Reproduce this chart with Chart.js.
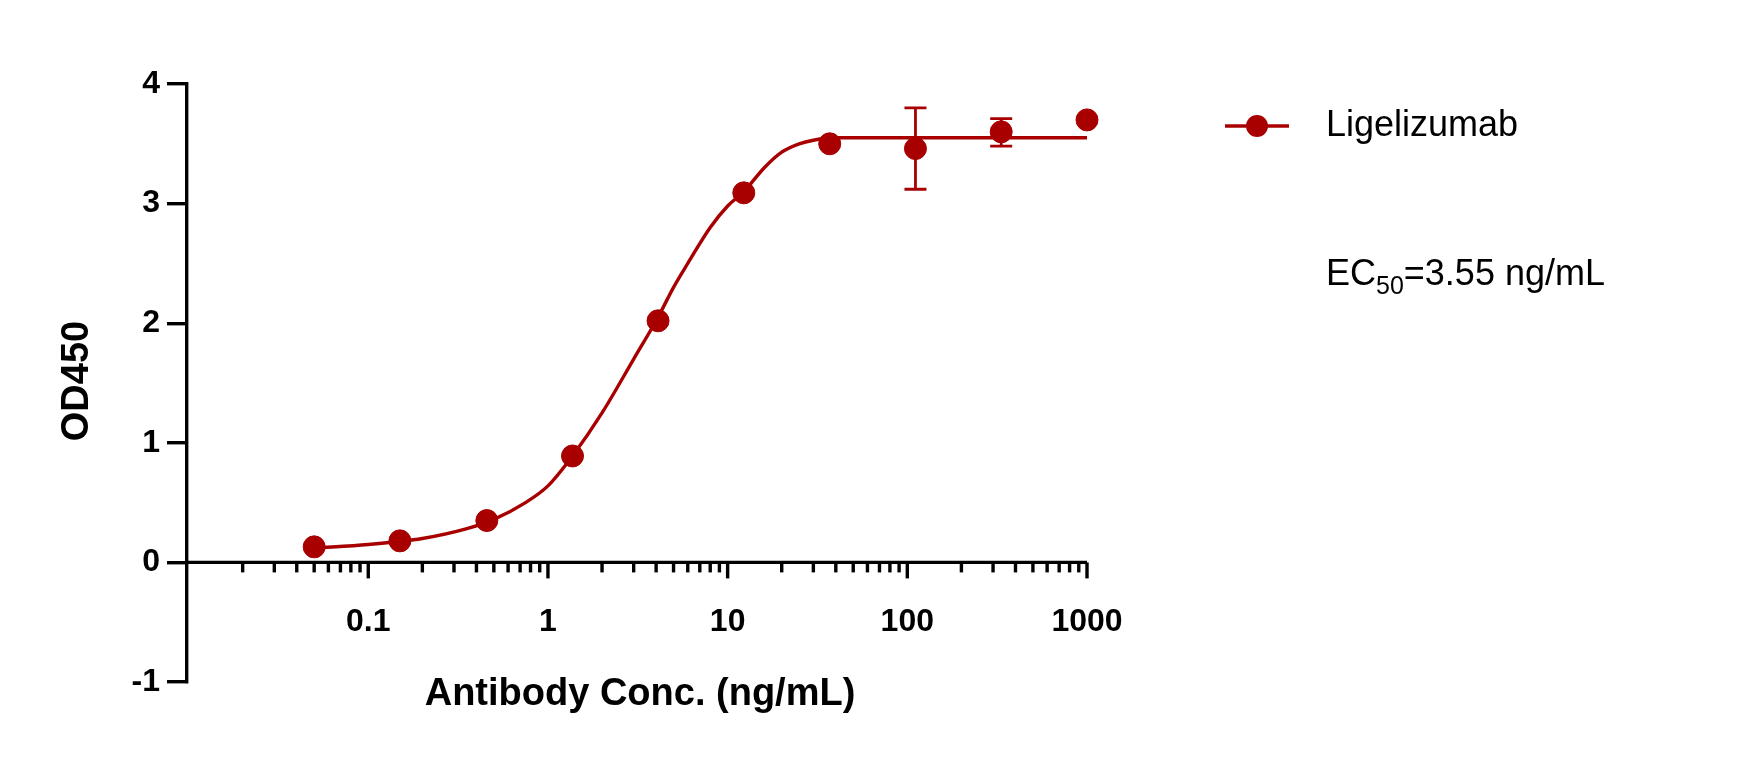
<!DOCTYPE html><html><head><script src="https://cdn.jsdelivr.net/npm/chart.js@4"></script>
<style>body{margin:0;background:#fff}#w{width:1758px;height:765px}</style></head><body><div id="w"><canvas id="c"></canvas></div>
<script>
const concs=[0.05,0.15,0.457,1.37,4.1,12.3,37,111,333,1000];
const od=[0.13,0.18,0.35,0.89,2.02,3.09,3.50,3.46,3.60,3.70];
const errLo=[null,null,null,null,null,null,null,3.12,3.48,null];
const errHi=[null,null,null,null,null,null,null,3.80,3.71,null];
const fitX=[0.05,0.1,0.2,0.35,0.5,0.75,1,1.37,2,3,4.1,5,6,8,10,12.3,16,20,25,30,40,60,1000];
const fitY=[0.12,0.15,0.2,0.28,0.36,0.5,0.64,0.89,1.25,1.7,2.05,2.3,2.5,2.8,2.98,3.1,3.3,3.43,3.5,3.53,3.55,3.55,3.55];
const xTickLabels=['0.1','1','10','100','1000'];
const yTicks=[-1,0,1,2,3,4];
const red='#A80000';
const F='"Liberation Sans", Arial, sans-serif';
const deco={id:'deco',afterDraw(ch){
 const c=ch.ctx,x=ch.scales.x,y=ch.scales.y,y0=y.getPixelForValue(0);
 c.save();c.strokeStyle='#000';c.lineWidth=3.4;
 c.beginPath();c.moveTo(x.left,y0);c.lineTo(x.right,y0);c.stroke();
 for(let e=-2;e<=3;e++)for(let m=1;m<=9;m++){const v=m*Math.pow(10,e);if(v<0.02||v>1000)continue;
  const px=x.getPixelForValue(v);c.beginPath();c.moveTo(px,y0);c.lineTo(px,y0+(m==1?16:10));c.stroke();}
 c.fillStyle='#000';c.font='bold 32px '+F;c.textAlign='center';c.textBaseline='middle';
 xTickLabels.forEach(t=>c.fillText(t,x.getPixelForValue(parseFloat(t)),622));
 c.font='bold 38px '+F;c.fillText('Antibody Conc. (ng/mL)',640,695);
 c.save();c.translate(78,381);c.rotate(-Math.PI/2);c.fillText('OD450',0,0);c.restore();
 c.strokeStyle=red;c.lineWidth=2.8;
 concs.forEach((v,i)=>{if(errLo[i]==null)return;const px=x.getPixelForValue(v),a=y.getPixelForValue(errLo[i]),b=y.getPixelForValue(errHi[i]);
  c.beginPath();c.moveTo(px,a);c.lineTo(px,b);c.moveTo(px-11,a);c.lineTo(px+11,a);c.moveTo(px-11,b);c.lineTo(px+11,b);c.stroke();});
 c.lineWidth=3.4;c.beginPath();c.moveTo(1225,126);c.lineTo(1289,126);c.stroke();
 c.fillStyle=red;c.beginPath();c.arc(1257,126,11,0,7);c.fill();
 c.fillStyle='#000';c.textAlign='left';c.font='36px '+F;c.fillText('Ligelizumab',1326,126);
 c.fillText('EC',1326,275);let w=c.measureText('EC').width;c.font='25px '+F;c.fillText('50',1326+w,287);
 let w2=c.measureText('50').width;c.font='36px '+F;c.fillText('=3.55 ng/mL',1326+w+w2,275);
 c.restore();}};
new Chart(document.getElementById('c'),{type:'scatter',
 data:{datasets:[
  {data:concs.map((v,i)=>({x:v,y:od[i]})),backgroundColor:red,borderColor:red,pointRadius:11,pointHoverRadius:11,clip:false},
  {type:'line',data:fitX.map((v,i)=>({x:v,y:fitY[i]})),borderColor:red,borderWidth:3.4,pointRadius:0,cubicInterpolationMode:'monotone',fill:false}
 ]},
 options:{responsive:true,maintainAspectRatio:false,animation:false,events:[],
  layout:{padding:{left:87,right:671,top:84,bottom:83}},
  plugins:{legend:{display:false},tooltip:{enabled:false}},
  scales:{
   x:{type:'logarithmic',min:0.0098,max:1000,grid:{display:false},border:{display:false},ticks:{display:false},afterFit(s){s.height=0;}},
   y:{min:-1,max:4,afterBuildTicks(s){s.ticks=yTicks.map(v=>({value:v}));},
    grid:{display:true,drawOnChartArea:false,tickLength:20,color:'#000',lineWidth:3.4},
    border:{display:true,color:'#000',width:3.4},
    ticks:{color:'#000',font:{family:F,size:32,weight:'bold'},padding:7},
    afterFit(s){s.width=100;}}
  }},
 plugins:[deco]});
</script></body></html>
